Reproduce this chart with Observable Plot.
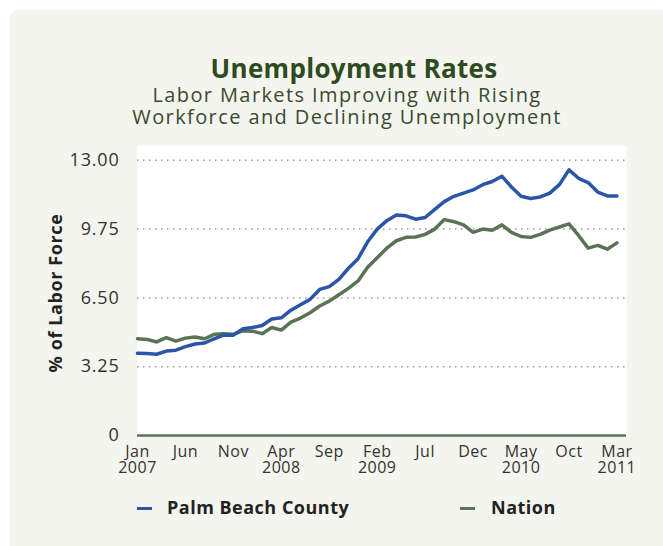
<!DOCTYPE html>
<html><head><meta charset="utf-8">
<script src="https://cdn.jsdelivr.net/npm/d3@7"></script>
<script src="https://cdn.jsdelivr.net/npm/@observablehq/plot@0.6"></script>
<style>
html,body{margin:0;padding:0;background:#fff;}
#page{position:relative;width:663px;height:546px;overflow:hidden;font-family:"Open Sans",sans-serif;}
#panel{position:absolute;left:10px;top:10px;right:0;bottom:0;background:#f4f5ee;border-top-left-radius:8px;}
#chart{position:absolute;left:0;top:0;}
.t{position:absolute;left:0;text-align:center;white-space:nowrap;}
#title{top:53px;width:708px;font-size:26px;font-weight:700;color:#2e4a20;line-height:30px;letter-spacing:0.3px;}
#sub{top:84px;width:694px;font-size:20px;color:#3a4a30;line-height:21.5px;letter-spacing:1.4px;}
#ylab{position:absolute;left:55px;top:293px;transform:translate(-50%,-50%) rotate(-90deg);font-size:18px;font-weight:700;color:#222;white-space:nowrap;letter-spacing:0.6px;}
.leg{position:absolute;top:496px;font-size:18px;font-weight:700;color:#222;line-height:22px;white-space:nowrap;letter-spacing:0.5px;}
.dash{position:absolute;top:507px;width:15px;height:3px;}
#chart svg g[aria-label="y-axis tick label"] text{letter-spacing:0.8px;}
#chart svg g[aria-label="x-axis tick label"] text{letter-spacing:0.5px;}
</style></head>
<body>
<div id="page">
  <div id="panel"></div>
  <div id="chart"></div>
  <div class="t" id="title">Unemployment Rates</div>
  <div class="t" id="sub">Labor Markets Improving with Rising<br>Workforce and Declining Unemployment</div>
  <div id="ylab">% of Labor Force</div>
  <div class="dash" style="left:137px;background:#2a55a8"></div>
  <div class="leg" style="left:167px">Palm Beach County</div>
  <div class="dash" style="left:460px;background:#5c7457"></div>
  <div class="leg" style="left:491px">Nation</div>
</div>
<script>
// Month index 0 = Jan 2007 ... 50 = Mar 2011
const seriesNames = ["Nation", "Palm Beach County"];
const palmBeach = [3.89,3.87,3.84,3.99,4.03,4.20,4.32,4.37,4.57,4.75,
  4.74,5.04,5.10,5.20,5.50,5.56,5.92,6.18,6.43,6.90,
  7.03,7.38,7.90,8.35,9.15,9.75,10.15,10.42,10.38,10.22,
  10.30,10.68,11.05,11.30,11.45,11.60,11.85,12.00,12.25,11.74,
  11.30,11.20,11.27,11.45,11.85,12.55,12.15,11.95,11.50,11.32,11.32];
const nation = [4.57,4.54,4.42,4.62,4.46,4.60,4.65,4.57,4.78,4.81,
  4.78,4.95,4.93,4.81,5.10,4.98,5.36,5.55,5.80,6.12,
  6.35,6.65,6.95,7.30,7.95,8.40,8.85,9.20,9.36,9.38,
  9.50,9.75,10.20,10.10,9.95,9.60,9.75,9.70,9.95,9.60,
  9.40,9.36,9.50,9.70,9.85,10.00,9.45,8.85,8.98,8.80,9.10];
const xTickPos = [0,5,10,15,20,25,30,35,40,45,50];
const xTickLabels = ["Jan\n2007","Jun","Nov","Apr\n2008","Sep","Feb\n2009","Jul","Dec","May\n2010","Oct","Mar\n2011"];
const yTicks = [0,3.25,6.5,9.75,13];
const yTickLabels = ["0","3.25","6.50","9.75","13.00"];

const data = [
  ...nation.map((v,i)=>({i, v, series:"Nation"})),
  ...palmBeach.map((v,i)=>({i, v, series:"Palm Beach County"}))
];

const chart = Plot.plot({
  width: 663, height: 546,
  marginLeft: 137, marginRight: 37, marginTop: 145, marginBottom: 111,
  style: {background: "transparent", fontFamily: "'Open Sans', sans-serif", color: "#333"},
  x: {domain: [0, 51]},
  y: {domain: [0, 13.7]},
  color: {domain: seriesNames, range: ["#5a7355", "#2a55a8"]},
  marks: [
    Plot.frame({fill: "white", stroke: null}),
    Plot.ruleY(yTicks.filter(d => d > 0), {stroke: "#9a9a9a", strokeDasharray: "1.5,4.5", strokeWidth: 1.5}),
    Plot.ruleY([0], {stroke: "#5b7156", strokeWidth: 2.5}),
    Plot.line(data, {x: "i", y: "v", z: "series", stroke: "series", strokeWidth: 3.5, strokeLinejoin: "round"}),
    Plot.axisY(yTicks, {tickSize: 0, tickPadding: 18, fontSize: 18, label: null,
      tickFormat: d => yTickLabels[yTicks.indexOf(d)]}),
    Plot.axisX(xTickPos, {tickSize: 0, tickPadding: 10, fontSize: 16, label: null, lineHeight: 1,
      tickFormat: d => xTickLabels[xTickPos.indexOf(d)]})
  ]
});
document.getElementById("chart").appendChild(chart);
</script>
</body></html>
